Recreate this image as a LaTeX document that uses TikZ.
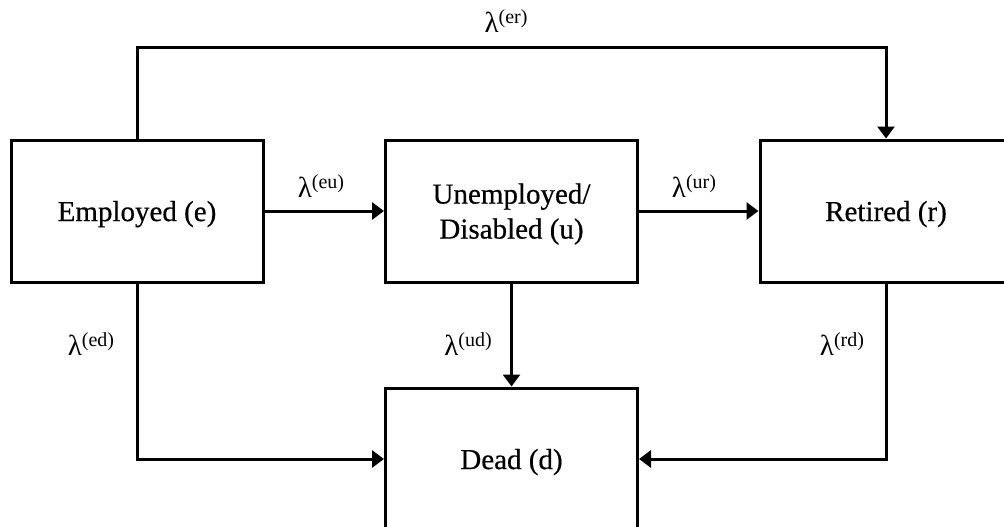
\documentclass[tikz,border=0pt]{standalone}
\usepackage{fontspec}
\setmainfont{Liberation Serif}
\newfontfamily\boxfont[FakeBold=0.5]{Liberation Serif}
\usetikzlibrary{arrows.meta}
\newcommand{\lamlab}[1]{{\fontsize{29}{32}\selectfont λ}\raisebox{9.5pt}{\fontsize{20}{22}\selectfont(#1)}}
\tikzset{
  statebox/.style={draw=black, line width=3pt, minimum width=252pt, minimum height=142pt, inner sep=0pt, text depth=0pt, align=center, font=\boxfont\fontsize{29}{35}\selectfont},
  flow/.style={line width=3pt, -{Triangle[width=17pt,length=12pt]}},
  ratelab/.style={inner sep=0pt, anchor=center}
}
\begin{document}
\begin{tikzpicture}[x=1pt,y=-1pt]
\clip (0,0) rectangle (1004,527);
\fill[white] (0,0) rectangle (1004,527);
\node[statebox] (emp) at (137,211) {Employed (e)};
\node[statebox] (une) at (511.5,211) {Unemployed/\\Disabled (u)};
\node[statebox] (ret) at (886,211) {Retired (r)};
\node[statebox] (dead) at (511.5,459) {Dead (d)};
\coordinate (top) at (500,48);
\draw[flow] (emp.north) |- (top) -| (ret.north);
\draw[flow] (emp.east) -- (une.west);
\draw[flow] (une.east) -- (ret.west);
\draw[flow] (une.south) -- (dead.north);
\draw[flow] (emp.south) |- (dead.west);
\draw[flow] (ret.south) |- (dead.east);
\node[ratelab] (ler) at (506,21) {\lamlab{er}};
\node[ratelab] (leu) at (321,186) {\lamlab{eu}};
\node[ratelab] (lur) at (694,186) {\lamlab{ur}};
\node[ratelab] (led) at (91,344) {\lamlab{ed}};
\node[ratelab] (lud) at (468,344) {\lamlab{ud}};
\node[ratelab] (lrd) at (842,344) {\lamlab{rd}};
\end{tikzpicture}
\end{document}
